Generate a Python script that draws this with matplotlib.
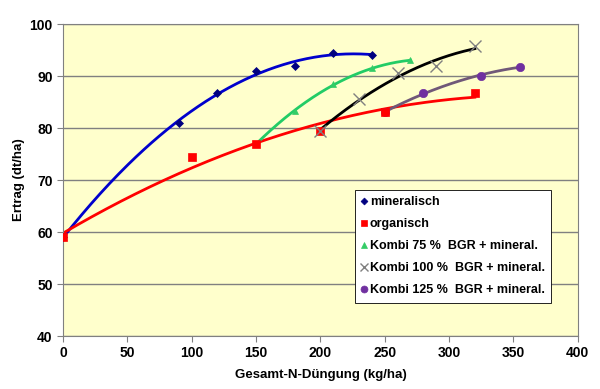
import numpy as np
import matplotlib.pyplot as plt

plt.rcParams['font.family'] = ['Liberation Sans', 'DejaVu Sans']
plt.rcParams['font.weight'] = 'bold'

x_min = [0, 90, 120, 150, 180, 210, 240]
y_min = [59, 81, 86.7, 91, 92, 94.5, 94]

x_org = [0, 100, 150, 200, 250, 320]
y_org = [59, 74.5, 77, 79.5, 83, 86.7]

x_k75 = [150, 180, 210, 240, 270]
y_k75 = [77, 83.2, 88.4, 91.5, 93]

x_k100 = [200, 230, 260, 290, 320]
y_k100 = [79.5, 85.5, 90.5, 92, 95.7]

x_k125 = [250, 280, 325, 355]
y_k125 = [83, 86.8, 90, 91.8]

# data, label, marker, marker colour, line colour, marker size, legend size, marker zorder
series = [
    (x_min, y_min, 'mineralisch', 'D', '#000080', '#0000CC', 4, 3.5, 4),
    (x_org, y_org, 'organisch', 's', '#FF0000', '#FF0000', 6, 5, 5),
    (x_k75, y_k75, 'Kombi 75 %  BGR + mineral.', '^', '#33CC66', '#22CC66', 5, 4, 4),
    (x_k100, y_k100, 'Kombi 100 %  BGR + mineral.', 'x', '#808080', '#000000', 9, 5.5, 6),
    (x_k125, y_k125, 'Kombi 125 %  BGR + mineral.', 'o', '#7030A0', '#705878', 6, 5, 4),
]

fig = plt.figure(figsize=(6, 3.89), dpi=100)
ax = fig.add_axes([0.105, 0.1362, 0.858, 0.802])
ax.set_facecolor('#FFFFCC')

for xs, ys, lab, mk, mc, lc, ms, lms, z in series:
    c = np.polyfit(xs, ys, 2)
    xx = np.linspace(min(xs), max(xs), 200)
    ax.plot(xx, np.polyval(c, xx), color=lc, lw=2, zorder=2)
    ax.plot(xs, ys, linestyle='none', marker=mk, color=mc, markersize=ms,
            markeredgewidth=1 if mk == 'x' else 0.5, label=lab, zorder=z)

ax.set_xlim(0, 400)
ax.set_ylim(40, 100)
ax.set_xticks(range(0, 401, 50))
ax.set_yticks(range(40, 101, 10))
ax.yaxis.grid(True, color='#808080', lw=1)
ax.set_axisbelow(True)
for s in ax.spines.values():
    s.set_color('#808080')
ax.tick_params(colors='#808080', labelcolor='black', labelsize=10, length=4)

ax.set_xlabel('Gesamt-N-Düngung (kg/ha)', fontsize=9.5, fontweight='bold', labelpad=6)
ax.set_ylabel('Ertrag (dt/ha)', fontsize=9.5, fontweight='bold', labelpad=3)

leg = ax.legend(loc='upper left', bbox_to_anchor=(0.567, 0.468), fontsize=9,
                frameon=True, fancybox=False, edgecolor='black', framealpha=1,
                handlelength=0.5, handletextpad=0.2, labelspacing=0.8,
                borderpad=0.5, borderaxespad=0)
leg.get_frame().set_linewidth(0.6)
for h, s in zip(leg.legend_handles, series):
    h.set_markersize(s[7])

fig.savefig('out.png', dpi=100)
